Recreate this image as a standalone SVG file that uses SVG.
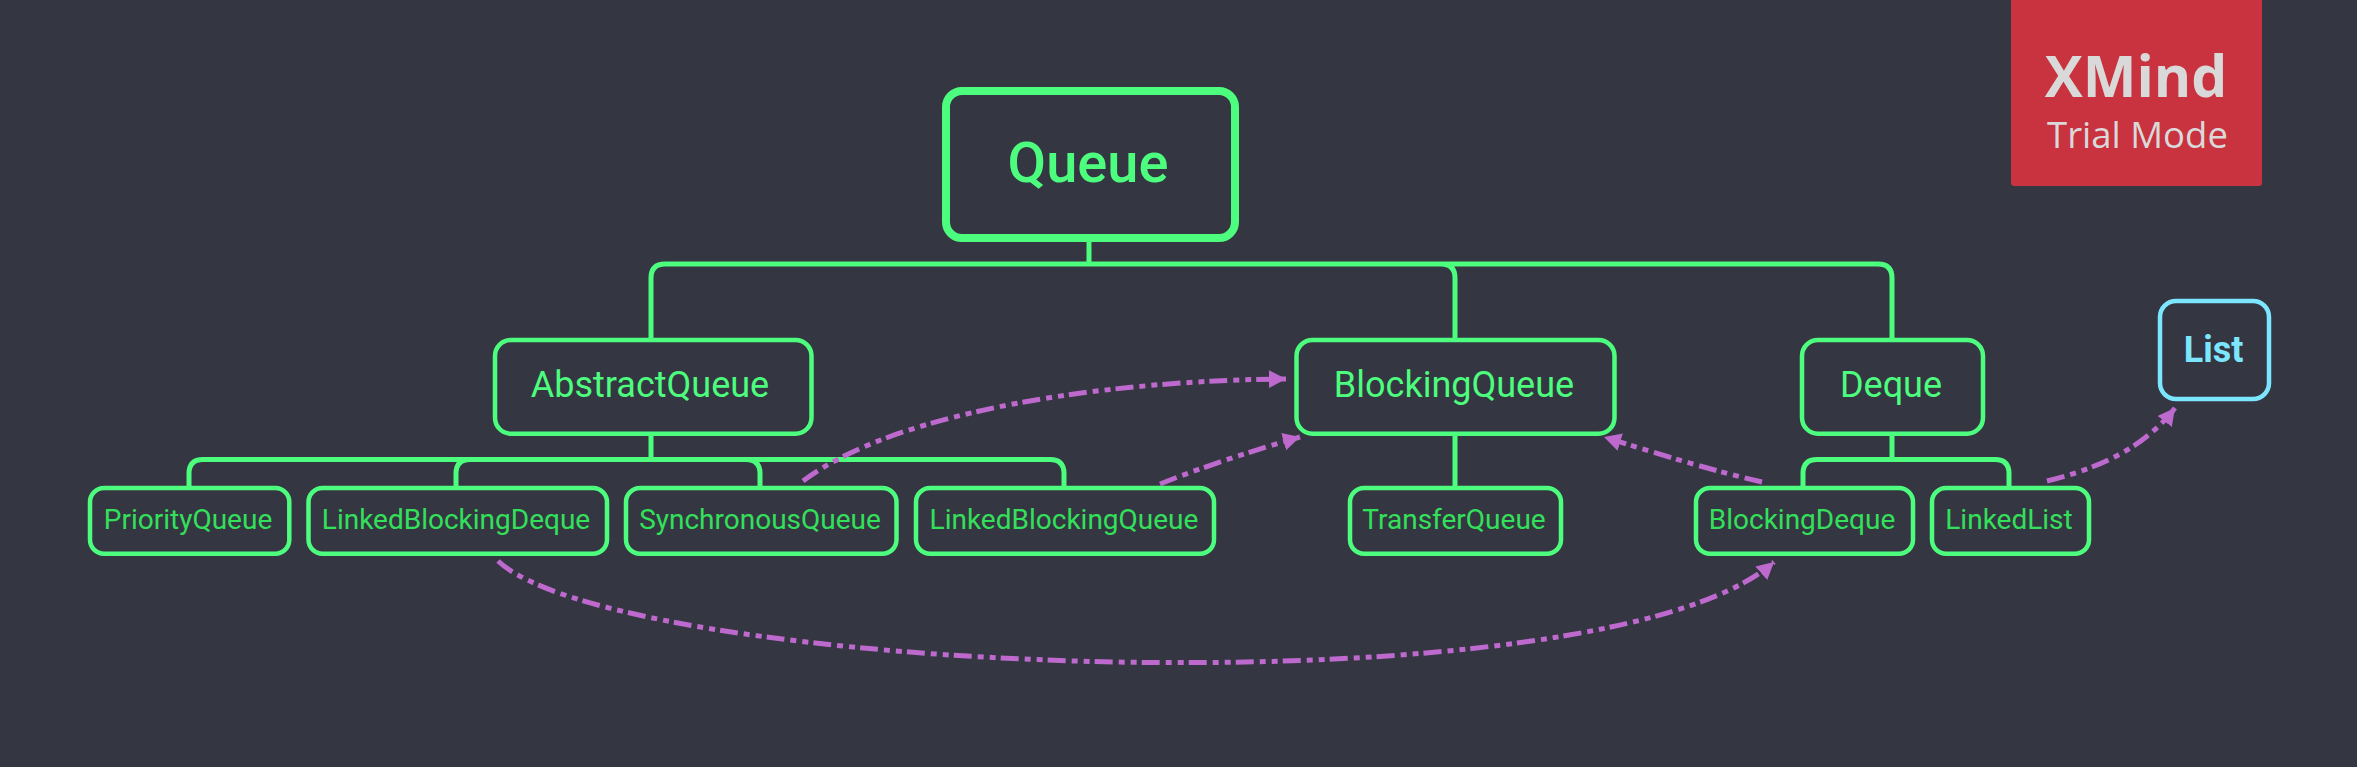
<svg xmlns="http://www.w3.org/2000/svg" width="2357" height="767" viewBox="0 0 2357 767">
<style>
text{font-family:Roboto,"Liberation Sans",sans-serif;text-anchor:middle}
.b{fill:none;stroke:#4dfd7d;stroke-width:4.500}
.t{fill:#4dfd7d;font-size:36px}
.c{fill:#33e05a;font-size:28px}
.w{font-family:"Open Sans","Noto Sans",sans-serif;fill:#d9d9d9}
#connectors path{fill:none}
.l{stroke:#4dfd7d;stroke-width:5}
.r{stroke:#bd69cd;stroke-width:5;stroke-dasharray:18 6 6 6 6 5;marker-end:url(#h)}
</style>
<defs><marker id="h" markerUnits="userSpaceOnUse" markerWidth="20" markerHeight="20" refX="17" refY="9" orient="auto"><path d="M0 0L17 9L0 18Z" fill="#bd69cd"/></marker></defs>
<rect width="2357" height="767" fill="#343642"/>
<g id="connectors">
<path class="l" d="M1089 242V264M651 338V278Q651 264 665 264H1878Q1892 264 1892 278V338M1441 264Q1455 264 1455 278V338"/>
<path class="l" d="M651 435V459.500M189 486V473.500Q189 459.500 203 459.500H1050Q1064 459.500 1064 473.500V486M456 486V473.500Q456 459.500 470 459.500H746Q760 459.500 760 473.500V486"/>
<path class="l" d="M1455 435V486"/>
<path class="l" d="M1892 435V459.500M1803 486V473.500Q1803 459.500 1817 459.500H1995Q2009 459.500 2009 473.500V486"/>
<path class="r" d="M803 481C900 408 1120 380 1286 379"/>
<path class="r" d="M1160 484C1205 466 1255 450 1300 437"/>
<path class="r" d="M1762 482C1710 470 1655 453 1604 437"/>
<path class="r" d="M2047 481C2100 468 2145 447 2175 408"/>
<path class="r" d="M498 561C620 675 1600 716 1774 562"/>
</g>
<g id="badge"><path d="M2011 0H2262V183Q2262 186 2259 186H2014Q2011 186 2011 183Z" fill="#c9323f"/><text class="w" x="2136" y="97" font-size="57" font-weight="700">XMind</text><text class="w" x="2137.500" y="148" font-size="36.500">Trial Mode</text></g>
<g id="queue"><rect x="946" y="91" width="289" height="147" rx="16" fill="none" stroke="#4dfd7d" stroke-width="8"/><text x="1088" y="182" font-size="56" font-weight="500" fill="#4dfd7d">Queue</text></g>
<g id="abstractqueue"><rect class="b" x="495" y="340" width="316.500" height="93.700" rx="16"/><text class="t" x="650" y="397">AbstractQueue</text></g>
<g id="blockingqueue"><rect class="b" x="1296.500" y="340" width="318" height="93.700" rx="16"/><text class="t" x="1454" y="397">BlockingQueue</text></g>
<g id="deque"><rect class="b" x="1802" y="340" width="181" height="93.700" rx="16"/><text class="t" x="1891" y="397">Deque</text></g>
<g id="list"><rect x="2160" y="301" width="109" height="98" rx="16" fill="none" stroke="#7de6ff" stroke-width="4.500"/><text x="2213.500" y="362" font-size="36" font-weight="700" fill="#7de6ff">List</text></g>
<g id="priorityqueue"><rect class="b" x="90" y="488" width="199.300" height="65.700" rx="14"/><text class="c" x="188" y="529">PriorityQueue</text></g>
<g id="linkedblockingdeque"><rect class="b" x="308.500" y="488" width="298.500" height="65.700" rx="14"/><text class="c" x="456" y="529">LinkedBlockingDeque</text></g>
<g id="synchronousqueue"><rect class="b" x="626" y="488" width="270.500" height="65.700" rx="14"/><text class="c" x="760" y="529">SynchronousQueue</text></g>
<g id="linkedblockingqueue"><rect class="b" x="916" y="488" width="298" height="65.700" rx="14"/><text class="c" x="1064" y="529">LinkedBlockingQueue</text></g>
<g id="transferqueue"><rect class="b" x="1350" y="488" width="211" height="65.700" rx="14"/><text class="c" x="1454" y="529">TransferQueue</text></g>
<g id="blockingdeque"><rect class="b" x="1696" y="488" width="217" height="65.700" rx="14"/><text class="c" x="1802" y="529">BlockingDeque</text></g>
<g id="linkedlist"><rect class="b" x="1932" y="488" width="157" height="65.700" rx="14"/><text class="c" x="2009" y="529">LinkedList</text></g>
</svg>
